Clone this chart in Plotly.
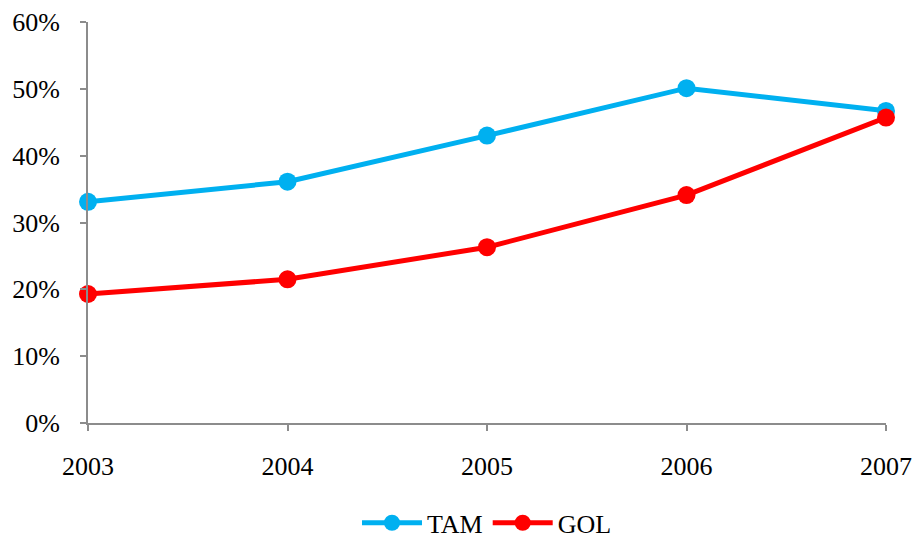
import plotly.graph_objects as go

years = [2003, 2004, 2005, 2006, 2007]
tam = [0.331, 0.361, 0.430, 0.501, 0.467]
gol = [0.193, 0.215, 0.263, 0.341, 0.457]
y_ticks = [0, 0.1, 0.2, 0.3, 0.4, 0.5, 0.6]

serif = "Liberation Serif"
tick_font = dict(family=serif, size=26, color="#000000")
legend_font = dict(family=serif, size=26, color="#000000")

fig = go.Figure()
fig.add_trace(go.Scatter(x=years, y=tam, name="TAM", mode="lines+markers",
                         line=dict(color="#00B0F0", width=5),
                         marker=dict(color="#00B0F0", size=18),
                         cliponaxis=False))
fig.add_trace(go.Scatter(x=years, y=gol, name="GOL", mode="lines+markers",
                         line=dict(color="#FF0000", width=5),
                         marker=dict(color="#FF0000", size=18),
                         cliponaxis=False))

axis_common = dict(showgrid=False, zeroline=False, showline=True,
                   linecolor="#8C8C8C", linewidth=2,
                   ticks="outside", ticklen=6, tickwidth=1.5, tickcolor="#8C8C8C",
                   automargin=False)

fig.update_xaxes(range=[2003, 2007], tickvals=years, ticktext=[str(y) for y in years],
                 tickfont=tick_font, ticklabelstandoff=13, **axis_common)
fig.update_yaxes(range=[0, 0.6], tickvals=y_ticks, tickformat=".0%",
                 tickfont=tick_font, ticklabelstandoff=15, **axis_common)

fig.update_layout(
    width=916, height=539,
    margin=dict(l=88, r=30, t=22, b=116, autoexpand=False),
    paper_bgcolor="white", plot_bgcolor="white",
    font=dict(family=serif, size=26, color="#000000"),
    showlegend=True,
    legend=dict(orientation="h", x=0.5, xanchor="center",
                yref="container", y=0.03, yanchor="middle",
                font=legend_font, itemwidth=60),
)

fig.write_html("out.html")
